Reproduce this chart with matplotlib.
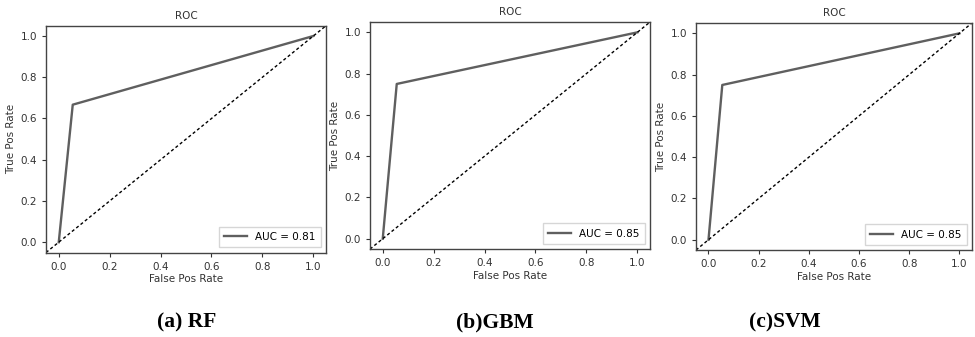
import matplotlib
matplotlib.use('Agg')
import matplotlib.pyplot as plt

fpr = [0.0, 0.055, 1.0]
tpr_rf = [0.0, 0.667, 1.0]
tpr_gbm = [0.0, 0.75, 1.0]
tpr_svm = [0.0, 0.75, 1.0]
auc_labels = ["AUC = 0.81", "AUC = 0.85", "AUC = 0.85"]
captions = ["(a) RF", "(b)GBM", "(c)SVM"]
diag = [0.0, 1.0]
ticks = [0.0, 0.2, 0.4, 0.6, 0.8, 1.0]

fig = plt.figure(figsize=(9.75, 3.37), dpi=100)

# positions des axes (fraction de la figure)
positions = [
    [0.0472, 0.2507, 0.2872, 0.6730],
    [0.3795, 0.2610, 0.2872, 0.6736],
    [0.7138, 0.2580, 0.2830, 0.6736],
]
caption_x = [0.191, 0.507, 0.805]

for pos, tpr, lab, cap, cx in zip(positions, [tpr_rf, tpr_gbm, tpr_svm],
                                  auc_labels, captions, caption_x):
    ax = fig.add_axes(pos)
    ax.plot(fpr, tpr, color="#5f5f5f", linewidth=1.7, label=lab)
    ax.set_xlim(-0.05, 1.05)
    ax.set_ylim(-0.05, 1.05)
    # diagonale de référence
    ax.axline((diag[0], diag[0]), (diag[1], diag[1]), color="black",
              linestyle=(0, (2.2, 1.8)), linewidth=1.0)
    ax.set_xticks(ticks)
    ax.set_yticks(ticks)
    ax.tick_params(labelsize=7.5, length=3, width=0.8, colors="#333333")
    for sp in ax.spines.values():
        sp.set_color("#444444")
        sp.set_linewidth(1.0)
    ax.set_title("ROC", fontsize=7.5, color="#333333", pad=5)
    ax.set_xlabel("False Pos Rate", fontsize=7.5, color="#333333", labelpad=2)
    ax.set_ylabel("True Pos Rate", fontsize=7.5, color="#333333", labelpad=3)
    leg = ax.legend(loc="lower right", fontsize=7.5, handlelength=2.2,
                    fancybox=False, borderpad=0.5)
    leg.get_frame().set_edgecolor("#cccccc")
    # légende de la sous-figure
    fig.text(cx, 1 - 322 / 337, cap, ha="center", va="center",
             fontsize=15.5, fontweight="bold", family="Liberation Serif")

fig.savefig("out.png", dpi=100)
plt.close(fig)
